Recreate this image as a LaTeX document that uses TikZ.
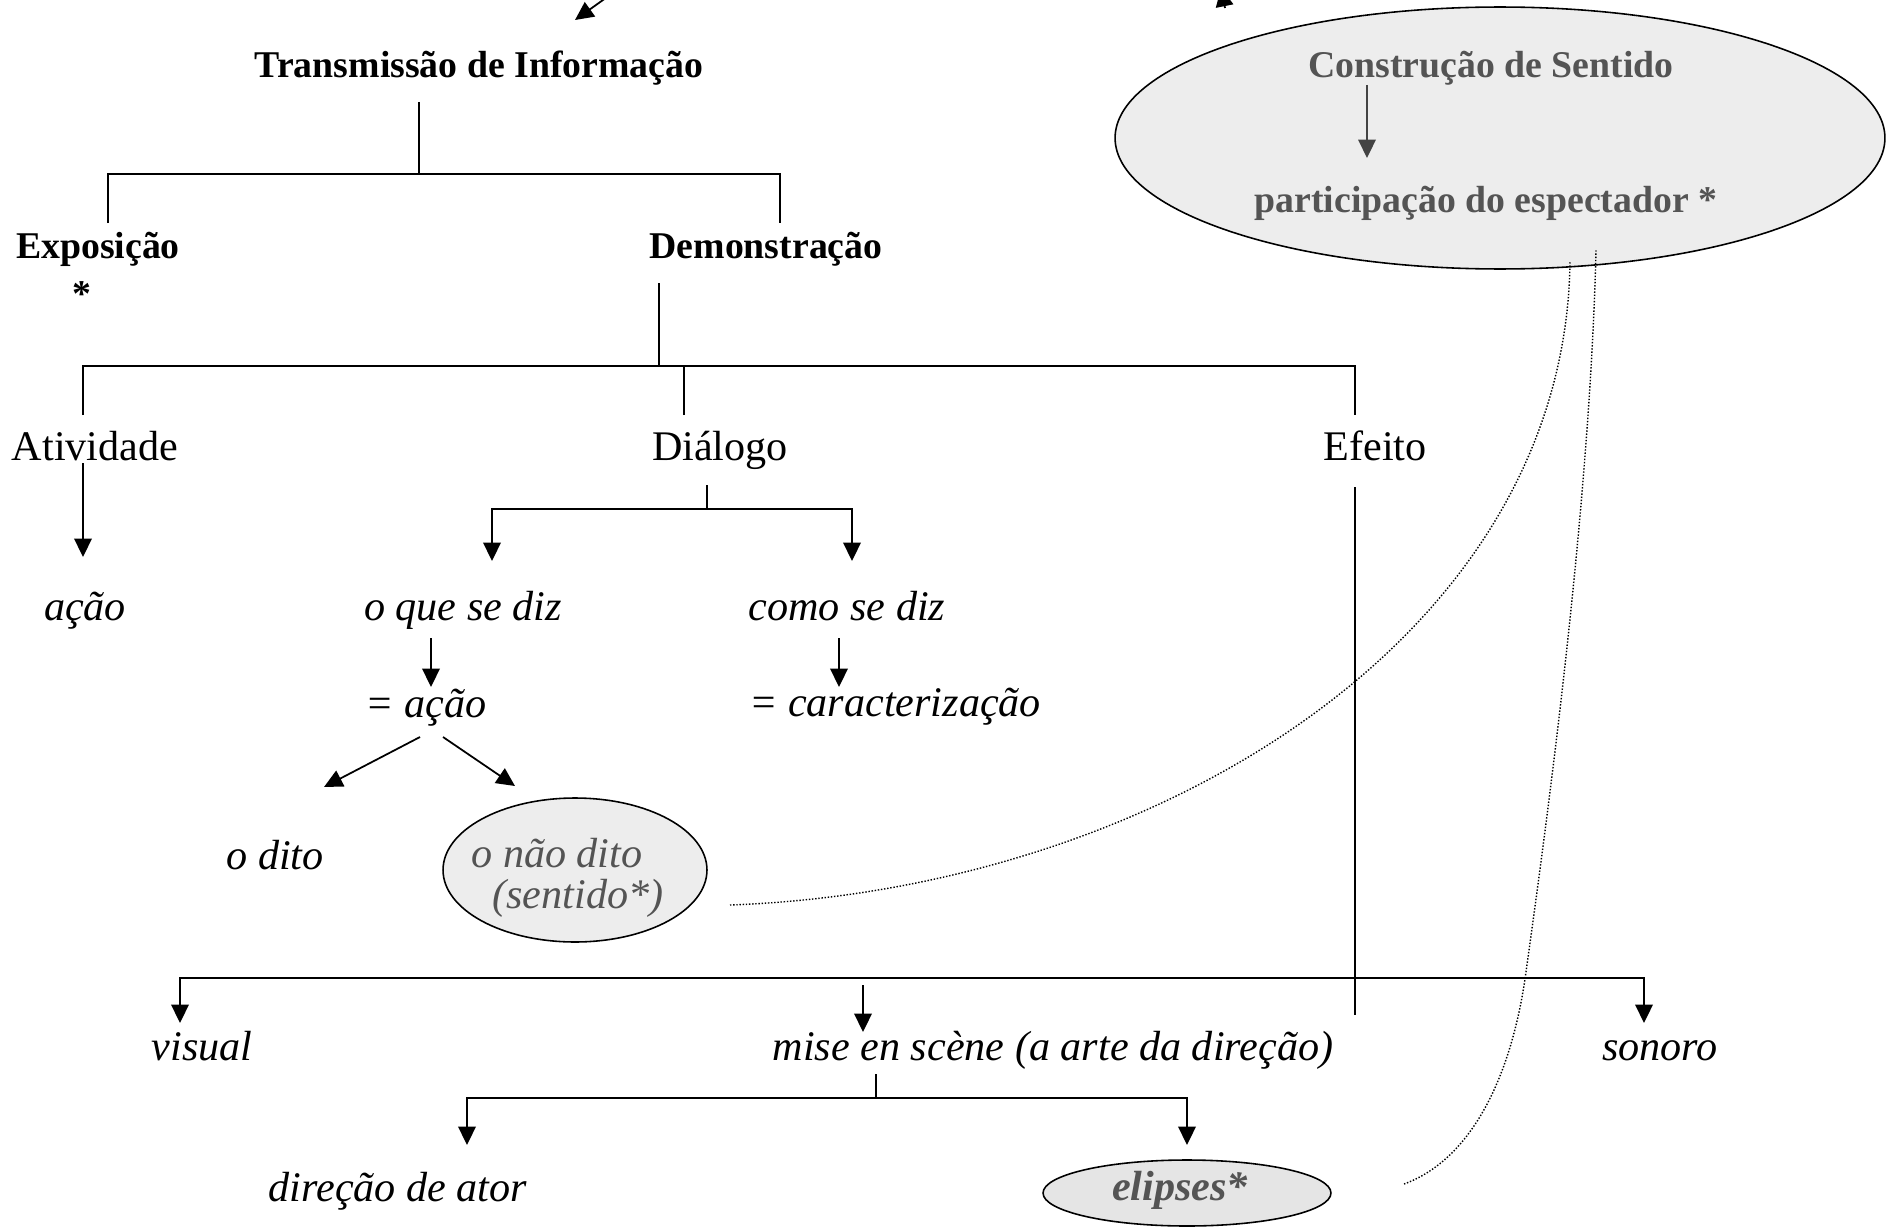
\documentclass[tikz,border=0pt]{standalone}
\usepackage{fontspec}
\setmainfont{Liberation Serif}
\usetikzlibrary{arrows.meta,shapes.geometric}
\definecolor{txtgray}{gray}{0.33}
\definecolor{fillgray}{gray}{0.93}
\begin{document}
\begin{tikzpicture}[x=0.02cm, y=-0.02cm,
  lbl/.style={inner sep=0pt, anchor=base, font=\fontsize{24}{28}\selectfont},
  itl/.style={inner sep=0pt, anchor=base, font=\fontsize{24}{28}\selectfont\itshape},
  hd/.style={inner sep=0pt, anchor=base, font=\fontsize{21.5}{26}\selectfont\bfseries},
  oval/.style={draw, ellipse, line width=0.9pt, fill=fillgray, inner sep=0pt},
  ln/.style={line width=1pt},
  arr/.style={line width=1pt, -{Triangle[length=10.5pt,width=10pt]}},
  dots/.style={densely dotted, line width=0.8pt}]
\useasboundingbox (0,0) rectangle (1893,1230);

% ovals
\node (sentido) [oval, minimum width=15.4cm, minimum height=5.24cm] at (1500,138) {};
\node (naodito) [oval, minimum width=5.28cm, minimum height=2.88cm] at (575,870) {};
\node (elipses) [oval, fill=gray!20, minimum width=5.76cm, minimum height=1.32cm] at (1187,1193) {};

% labels
\node (trans) [hd] at (479,78) {Transmissão de Informação};
\node (expo) [hd] at (98,258) {Exposição};
\node (expostar) [hd] at (82,306) {*};
\node (demo) [hd] at (766,258) {Demonstração};
\node (ativ) [lbl] at (95,460) {Atividade};
\node (dial) [lbl] at (720,460) {Diálogo};
\node (efeito) [lbl] at (1375,460) {Efeito};
\node (acao) [itl] at (85,620) {ação};
\node (oque) [itl] at (463,620) {o que se diz};
\node (como) [itl] at (847,620) {como se diz};
\node (igacao) [itl] at (426,717) {= ação};
\node (igcar) [itl] at (895,716) {= caracterização};
\node (odito) [itl] at (275,869) {o dito};
\node (naotxt) [itl, text=txtgray] at (557,867) {o não dito};
\node (sentxt) [itl, text=txtgray] at (578,908) {(sentido*)};
\node (visual) [itl] at (202,1060) {visual};
\node (mise) [itl] at (1053,1060) {mise en scène (a arte da direção)};
\node (sonoro) [itl] at (1660,1060) {sonoro};
\node (ator) [itl] at (398,1201) {direção de ator};
\node (eliptxt) [hd, font=\fontsize{24}{28}\selectfont\bfseries\itshape, text=txtgray] at (1180,1200) {elipses*};
\node (constr) [hd, text=txtgray] at (1491,78) {Construção de Sentido};
\node (partic) [hd, text=txtgray] at (1486,212) {participação do espectador *};

% junction points
\coordinate (tA) at (419,102);  \coordinate (tB) at (419,174);
\coordinate (tL) at (108,223);  \coordinate (tR) at (780,223);
\coordinate (dA) at (659,283);  \coordinate (dB) at (659,366);
\coordinate (dL) at (83,415);   \coordinate (dM) at (684,415);  \coordinate (dR) at (1355,415);
\coordinate (aA) at (83,463);   \coordinate (aB) at (83,557);
\coordinate (gA) at (707,485);  \coordinate (gB) at (707,509);
\coordinate (gL) at (492,561);  \coordinate (gR) at (852,561);
\coordinate (qA) at (431,638);  \coordinate (qB) at (431,687);
\coordinate (cA) at (839,638);  \coordinate (cB) at (839,687);
\coordinate (xL) at (420,737);  \coordinate (xLt) at (324,787);
\coordinate (xR) at (443,737);  \coordinate (xRt) at (515,786);
\coordinate (eA) at (1355,487); \coordinate (eB) at (1355,1015); \coordinate (eX) at (1355,978);
\coordinate (vT) at (180,1023); \coordinate (sT) at (1644,1023);
\coordinate (mA) at (863,985);  \coordinate (mB) at (863,1032);
\coordinate (kA) at (876,1074); \coordinate (kB) at (876,1098);
\coordinate (kL) at (467,1145); \coordinate (kR) at (1187,1145);
\coordinate (pA) at (1367,85);  \coordinate (pB) at (1367,158);
\coordinate (topL) at (617,-10); \coordinate (topLt) at (575,20);
\coordinate (topR) at (1225,8);  \coordinate (topRt) at (1221,-12);
\coordinate (c1s) at (730,905);  \coordinate (c1e) at (1570,262);
\coordinate (c2s) at (1404,1184); \coordinate (c2m) at (1525,979); \coordinate (c2e) at (1596,250);

% tree
\draw [ln] (tA) -- (tB);
\draw [ln] (tL) |- (tB) -| (tR);
\draw [ln] (dA) -- (dB);
\draw [ln] (dL) |- (dB) -| (dR);
\draw [ln] (dM) -- (dM |- dB);
\draw [arr] (aA) -- (aB);
\draw [ln] (gA) -- (gB);
\draw [arr] (gB) -| (gL);
\draw [arr] (gB) -| (gR);
\draw [arr] (qA) -- (qB);
\draw [arr] (cA) -- (cB);
\draw [arr] (xL) -- (xLt);
\draw [arr] (xR) -- (xRt);
\draw [ln] (eA) -- (eB);
\draw [arr] (eX) -| (vT);
\draw [arr] (eX) -| (sT);
\draw [arr] (mA) -- (mB);
\draw [ln] (kA) -- (kB);
\draw [arr] (kB) -| (kL);
\draw [arr] (kB) -| (kR);
\draw [arr, txtgray!80!black] (pA) -- (pB);
\draw [arr] (topL) -- (topLt);
\draw [arr] (topR) -- (topRt);

% dotted links
\draw [dots] (c1s) .. controls (1150,890) and (1565,640) .. (c1e);
\draw [dots] (c2s) .. controls (1470,1160) and (1510,1080) .. (c2m)
  .. controls (1550,800) and (1590,500) .. (c2e);
\end{tikzpicture}
\end{document}
